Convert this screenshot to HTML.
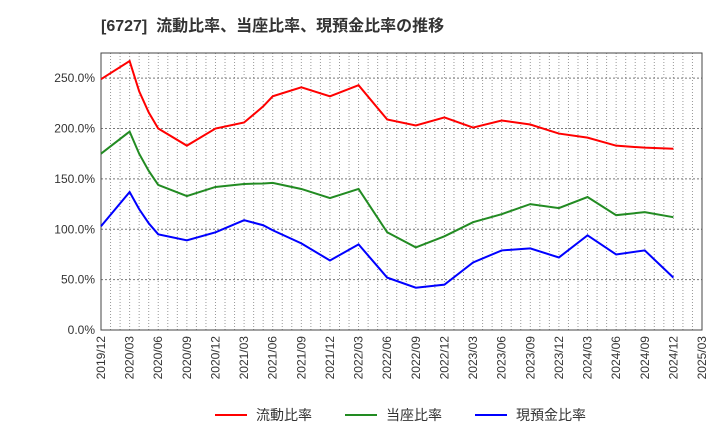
<!DOCTYPE html>
<html><head><meta charset="utf-8"><style>
body{margin:0;background:#fff;font-family:"Liberation Sans","Noto Sans CJK JP",sans-serif}
</style></head><body>
<svg id="c" width="720" height="440" xmlns="http://www.w3.org/2000/svg" style="font-family:'Liberation Sans','Noto Sans CJK JP',sans-serif">
<text x="101" y="31" font-size="16" font-weight="bold" fill="#333" xml:space="preserve">[6727]  流動比率、当座比率、現預金比率の推移</text>
<g id="grid"></g><g id="axes"></g><g id="lines"></g>
<g id="legend"></g>
</svg>
<script>
const xTickLabels=["2019/12","2020/03","2020/06","2020/09","2020/12","2021/03","2021/06","2021/09","2021/12","2022/03","2022/06","2022/09","2022/12","2023/03","2023/06","2023/09","2023/12","2024/03","2024/06","2024/09","2024/12","2025/03"];
const yTicks=[0,50,100,150,200,250];
const months=[0,3,4,5,6,9,12,15,17,18,21,24,27,30,33,36,39,42,45,48,51,54,57,60];
const currentRatio=[249,267,237,216,200,183,200,206,222,232,241,232,243,209,203,211,201,208,204,195,191,183,181,180];
const quickRatio=[175,197,175,158,144,133,142,145,145.5,146,140,131,140,97,82,93,107,115,125,121,132,114,117,112];
const cashRatio=[103,137,120,106,95,89,97,109,104,99,86,69,85,52,42,45,67,79,81,72,94,75,79,52];
const seriesNames=["流動比率","当座比率","現預金比率"];
const seriesColors=["#f00","#228b22","#00f"];
const L=101,R=702,T=53,B=330,maxM=63,maxY=275;
const X=m=>L+(R-L)*m/maxM, Y=v=>B-(B-T)*v/maxY;
const ns="http://www.w3.org/2000/svg";
function mk(tag,attrs,parent){const e=document.createElementNS(ns,tag);for(const k in attrs)e.setAttribute(k,attrs[k]);parent.appendChild(e);return e;}
const grid=document.getElementById('grid'),axes=document.getElementById('axes'),lines=document.getElementById('lines'),leg=document.getElementById('legend');
for(let m=1;m<maxM;m++){const l=mk('line',{x1:X(m),x2:X(m),y1:T,y2:B,stroke:'#999','stroke-width':1,'stroke-dasharray':'1,2'},grid);

}
yTicks.forEach(v=>{if(v>0){const l=mk('line',{x1:L,x2:R,y1:Y(v),y2:Y(v),stroke:'#777','stroke-width':1,'stroke-dasharray':'2,2'},grid);

}
const t=mk('text',{x:L-6,y:Y(v)+4,'text-anchor':'end','font-size':12,fill:'#333'},axes);t.textContent=v.toFixed(1)+'%';

});
const fr=mk('rect',{x:L,y:T,width:R-L,height:B-T,fill:'none',stroke:'#444','stroke-width':1},axes);


xTickLabels.forEach((s,i)=>{const x=X(i*3);const t=mk('text',{x:x+4,y:B+6,'text-anchor':'end','font-size':12,fill:'#333',transform:`rotate(-90 ${x+4} ${B+6})`},axes);t.textContent=s;

});
[currentRatio,quickRatio,cashRatio].forEach((vals,si)=>{
const p=mk('polyline',{points:vals.map((v,i)=>X(months[i])+','+Y(v)).join(' '),fill:'none',stroke:seriesColors[si],'stroke-width':2},lines);


const lx=215+si*130;
const ll=mk('line',{x1:lx,x2:lx+32,y1:415,y2:415,stroke:seriesColors[si],'stroke-width':2},leg);


const lt=mk('text',{x:lx+41,y:420,'font-size':14,fill:'#333'},leg);lt.textContent=seriesNames[si];


});
</script>
</body></html>
